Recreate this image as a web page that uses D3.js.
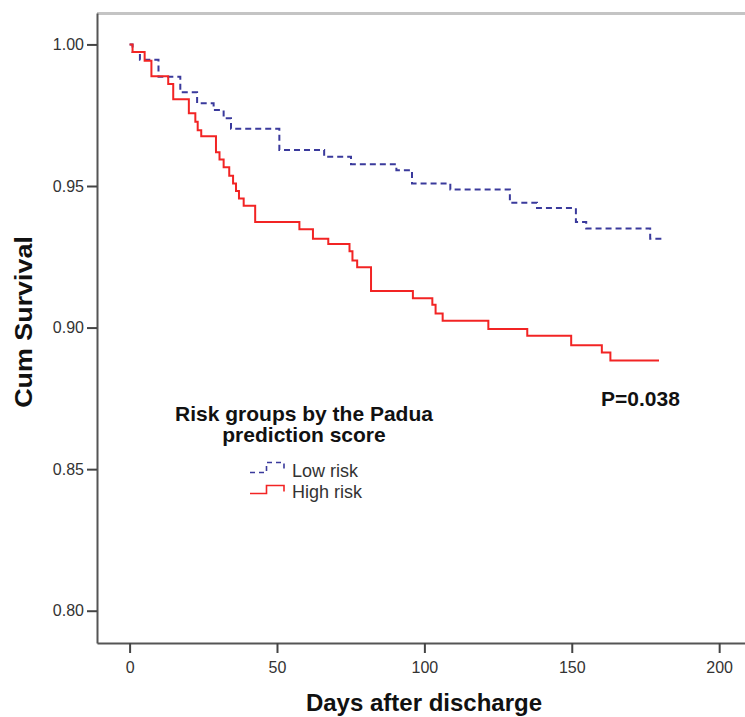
<!DOCTYPE html>
<html>
<head>
<meta charset="utf-8">
<script src="https://cdn.jsdelivr.net/npm/d3@7"></script>
<style>
  body { margin: 0; background: #fff; }
  text { font-family: "Liberation Sans", Arial, sans-serif; }
</style>
</head>
<body>
<div id="chart"></div>
<script>
// Kaplan-Meier steps (days after discharge, cumulative survival)
const lowDays = [0, 1.0, 3.5, 9.8, 17.2, 22.9, 28.5, 31.9, 34.4, 50.8, 66.0, 75.1, 90.5, 95.8, 108.8, 129.0, 138.2, 151.4, 154.9, 176.6, 180.6]
const lowSurv = [1.0, 0.9973, 0.9946, 0.9886, 0.9831, 0.9792, 0.9768, 0.9739, 0.9702, 0.9627, 0.9603, 0.9577, 0.9556, 0.9509, 0.9488, 0.9441, 0.9422, 0.9373, 0.9350, 0.9314, 0.9314]

const highDays = [0, 1.0, 5.1, 7.4, 13.1, 14.8, 20.1, 22.3, 23.1, 24.3, 29.3, 30.5, 31.9, 33.8, 35.1, 36.1, 37.1, 38.7, 42.6, 57.6, 62.2, 67.4, 74.6, 75.6, 77.2, 81.9, 96.1, 102.7, 103.8, 106.2, 121.7, 134.9, 149.8, 160.2, 163.1, 179.6]
const highSurv = [1.0, 0.9973, 0.9942, 0.9888, 0.9860, 0.9806, 0.9757, 0.9727, 0.9697, 0.9676, 0.9619, 0.9594, 0.9566, 0.9536, 0.9509, 0.9482, 0.9456, 0.9430, 0.9373, 0.9347, 0.9314, 0.9295, 0.9270, 0.9237, 0.9213, 0.9129, 0.9104, 0.9081, 0.9050, 0.9024, 0.8995, 0.8971, 0.8938, 0.8912, 0.8884, 0.8884]

const xTicks = [0, 50, 100, 150, 200]
const yTicks = [0.80, 0.85, 0.90, 0.95, 1.00]

const groupNames = ["Low risk", "High risk"]
const legendTitle = ["Risk groups by the Padua", "prediction score"]
const pLabel = "P=0.038"

const W = 745, H = 717
const dims = { top: 13, left: 97, width: 654, height: 630 }

const svg = d3.select('#chart')
  .append("svg")
    .attr("width", W)
    .attr("height", H)

const g = svg.append("g")
    .attr("transform", "translate(" + dims.left + "," + dims.top + ")")

const x = d3.scaleLinear().domain([-11.06, 210.8]).range([0, dims.width])
const y = d3.scaleLinear().domain([0.7886, 1.0111]).range([dims.height, 0])

// frame top (light grey)
g.append("line")
  .attr("x1", 0).attr("x2", dims.width)
  .attr("y1", 0.5).attr("y2", 0.5)
  .attr("stroke", "#c4c4c4").attr("stroke-width", 3)

// y axis
const yAxis = g.append("g")
  .call(d3.axisLeft(y).tickValues(yTicks).tickFormat(d3.format(".2f")).tickSize(10).tickPadding(3).tickSizeOuter(0))
yAxis.select(".domain").attr("stroke", "#555").attr("stroke-width", 2)
yAxis.selectAll(".tick line").attr("stroke", "#444").attr("stroke-width", 2)
yAxis.selectAll("text").attr("fill", "#333").style("font-size", "16px")

// x axis
const xAxis = g.append("g")
  .attr("transform", "translate(0," + dims.height + ")")
  .call(d3.axisBottom(x).tickValues(xTicks).tickSize(10).tickPadding(9).tickSizeOuter(0))
xAxis.select(".domain").attr("stroke", "#555").attr("stroke-width", 2)
xAxis.selectAll(".tick line").attr("stroke", "#444").attr("stroke-width", 2)
xAxis.selectAll("text").attr("fill", "#333").style("font-size", "16px")

// axis titles
svg.append("text")
  .attr("x", dims.left + dims.width / 2)
  .attr("y", 711)
  .attr("text-anchor", "middle")
  .style("font-size", "24px").style("font-weight", "bold")
  .attr("fill", "#111")
  .text("Days after discharge")

svg.append("text")
  .attr("transform", "translate(32,322) rotate(-90) scale(1.12,1)")
  .attr("text-anchor", "middle")
  .style("font-size", "24px").style("font-weight", "bold")
  .attr("fill", "#111")
  .text("Cum Survival")

// survival curves
const stepLine = d3.line()
  .x(d => x(d[0]))
  .y(d => y(d[1]))
  .curve(d3.curveStepAfter)

const lowData = lowDays.map((d, i) => [d, lowSurv[i]])
const highData = highDays.map((d, i) => [d, highSurv[i]])

g.append("path")
  .datum(lowData)
  .attr("fill", "none")
  .attr("stroke", "#3a3a9c")
  .attr("stroke-width", 2)
  .attr("stroke-dasharray", "6,4")
  .attr("d", stepLine)

g.append("path")
  .datum(highData)
  .attr("fill", "none")
  .attr("stroke", "#f22424")
  .attr("stroke-width", 2)
  .attr("d", stepLine)

// p value
svg.append("text")
  .attr("x", 601)
  .attr("y", 406)
  .style("font-size", "21px").style("font-weight", "bold")
  .attr("fill", "#111")
  .text(pLabel)

// legend
const legend = svg.append("g")

legend.selectAll("text.title")
  .data(legendTitle)
  .join("text")
    .attr("class", "title")
    .attr("x", 304)
    .attr("y", (d, i) => 421 + i * 21)
    .attr("text-anchor", "middle")
    .style("font-size", "21px").style("font-weight", "bold")
    .attr("fill", "#111")
    .text(d => d)

const legendStyles = [
  { color: "#3a3a9c", dash: "5,4", yLow: 472.5, yHigh: 462.5 },
  { color: "#f22424", dash: null, yLow: 493.5, yHigh: 485.5 }
]

groupNames.forEach(function (name, i) {
  const s = legendStyles[i]
  legend.append("path")
    .attr("d", "M250," + s.yLow + "H266.5V" + s.yHigh + "H284V" + (s.yLow - 2))
    .attr("fill", "none")
    .attr("stroke", s.color)
    .attr("stroke-width", 1.6)
    .attr("stroke-dasharray", s.dash)

  legend.append("text")
    .attr("x", 292)
    .attr("y", i === 0 ? 477 : 498)
    .style("font-size", "18px")
    .attr("fill", "#333")
    .text(name)
})
</script>
</body>
</html>
